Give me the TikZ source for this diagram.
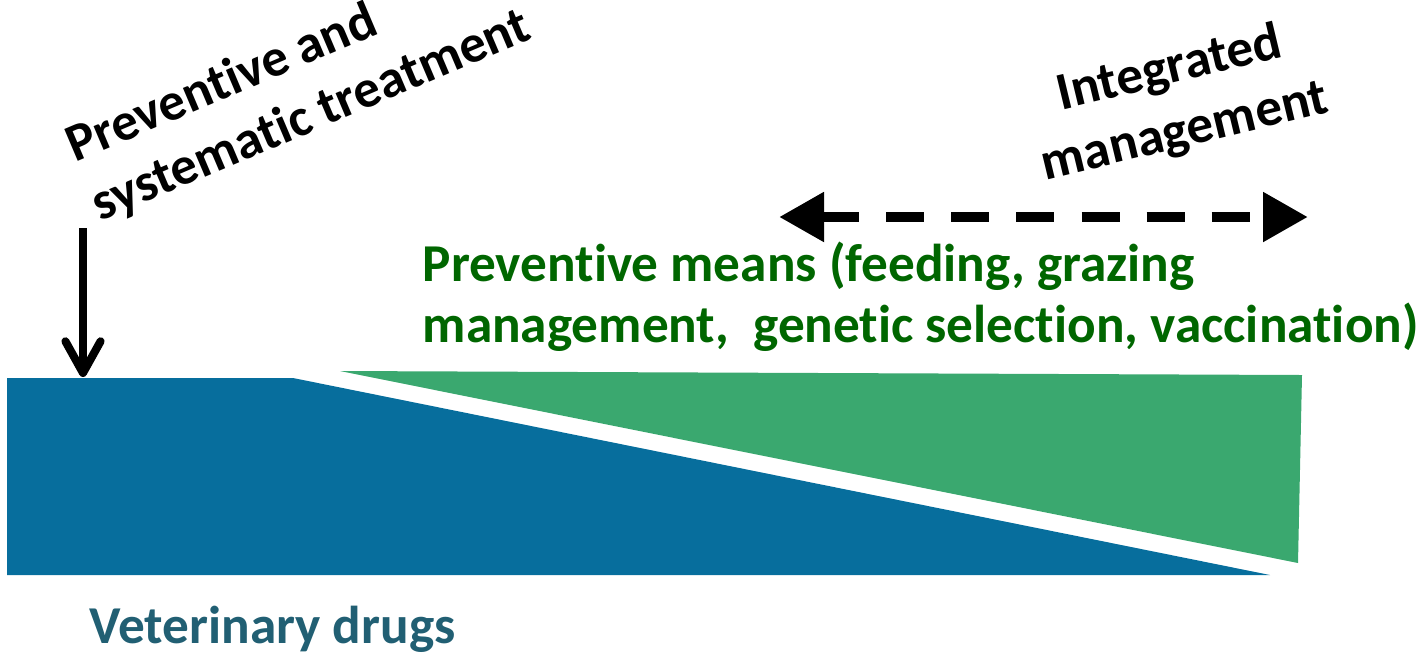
\documentclass[tikz,border=0pt]{standalone}
\usepackage{fontspec}
\setmainfont{Carlito}[Ligatures=NoCommon]
\usetikzlibrary{arrows.meta}
\definecolor{drugblue}{RGB}{7,110,157}
\definecolor{prevgreen}{RGB}{58,168,111}
\definecolor{textgreen}{RGB}{0,102,0}
\definecolor{vettext}{RGB}{33,95,115}
\tikzset{
  lbl/.style={font=\fontsize{15.15pt}{17.1pt}\selectfont\bfseries, inner sep=0pt},
  blacklbl/.style={font=\fontsize{15.15pt}{18.3pt}\selectfont\bfseries, inner sep=0pt, text=black},
}
\begin{document}
\begin{tikzpicture}[x=0.01cm,y=-0.01cm]
\useasboundingbox (0,0) rectangle (1424,657);
% shapes
\fill[drugblue] (7,378) -- (293,378) -- (1270,575) -- (7,575) -- cycle;
\fill[prevgreen] (340,371) -- (1302,375) -- (1298,563) -- cycle;
% coordinates for arrows
\coordinate (dtop) at (83,228);
\coordinate (dtip) at (83,377);
\coordinate (hl) at (779,217);
\coordinate (hr) at (1308,217);
\draw[line width=2.3pt, -{Straight Barb[round,length=9pt,width=10pt]}] (dtop) -- (dtip);
\draw[line width=3.1pt, dash pattern=on 10.8pt off 7.7pt,
  {Triangle[length=12.8pt,width=13.4pt]}-{Triangle[length=12.8pt,width=13.4pt]}] (hl) -- (hr);
% texts
\node[blacklbl, align=left, rotate=23, anchor=base west] (pst) at (100,222) {Preventive and\\systematic treatment};
\node[blacklbl, align=center, rotate=13.5, anchor=base] (im) at (1188,146) {Integrated\\management};
\node[lbl, text=textgreen, align=left, anchor=base west] (pm) at (422,342)
  {Preventive means (feeding, grazing\\management,\ \ genetic selection, vaccination)};
\node[lbl, text=vettext, anchor=base west] (vd) at (89,643) {Veterinary drugs};
\end{tikzpicture}
\end{document}
